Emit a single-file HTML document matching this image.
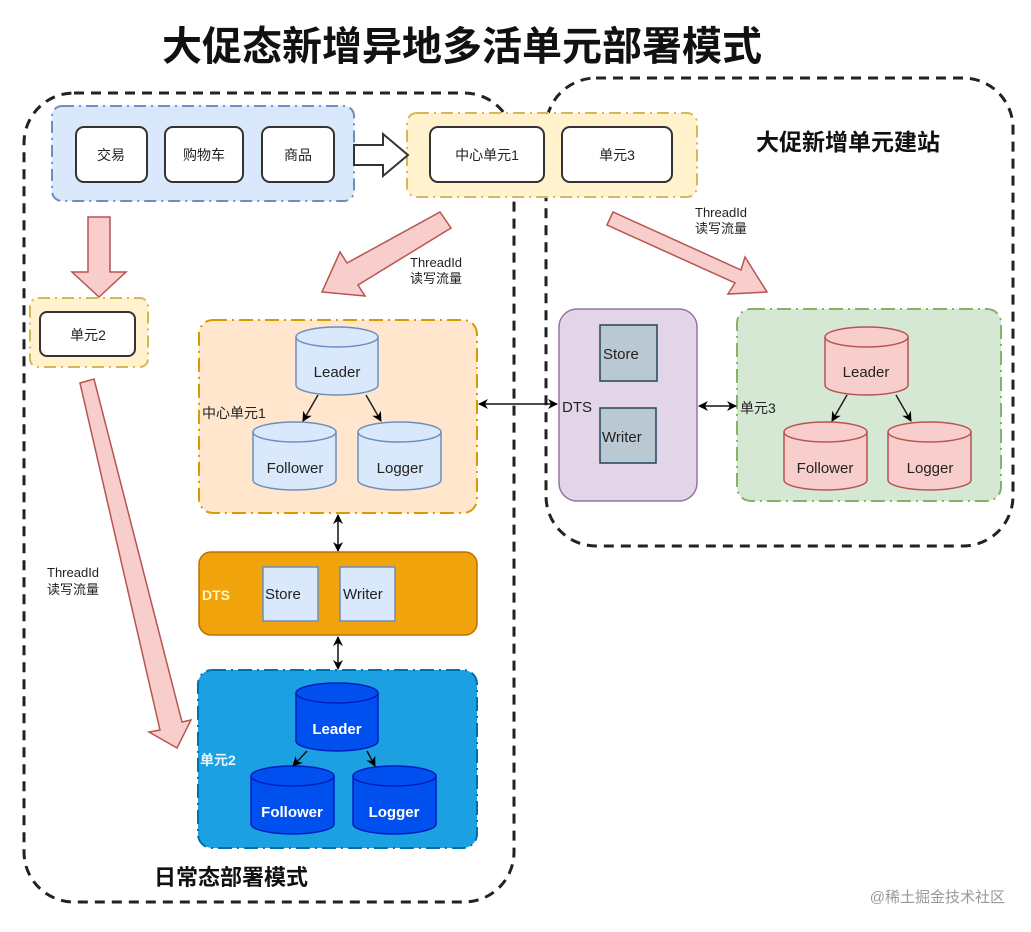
<!DOCTYPE html>
<html><head><meta charset="utf-8"><style>
html,body{margin:0;padding:0;background:#fff;}
svg{display:block;font-family:"Liberation Sans","Noto Sans CJK SC",sans-serif;}
</style></head><body>
<svg width="1031" height="932" viewBox="0 0 1031 932" xmlns="http://www.w3.org/2000/svg">
<defs>
<marker id="ah" markerWidth="10" markerHeight="10" refX="9" refY="5" orient="auto-start-reverse" markerUnits="userSpaceOnUse"><path d="M0,0 L10,5 L0,10 L3,5 z" fill="#000"/></marker>
</defs>
<text x="462" y="60" text-anchor="middle" font-size="40" font-weight="bold" fill="#111">大促态新增异地多活单元部署模式</text>

<rect x="24" y="93" width="490" height="809" rx="50" fill="none" stroke="#222" stroke-width="3" stroke-dasharray="10,7"/>
<rect x="546" y="78" width="467" height="468" rx="50" fill="none" stroke="#222" stroke-width="3" stroke-dasharray="10,7"/>
<text x="848" y="150" text-anchor="middle" font-size="23" font-weight="bold" fill="#111">大促新增单元建站</text>
<text x="231" y="885" text-anchor="middle" font-size="22" font-weight="bold" fill="#111">日常态部署模式</text>

<rect x="52" y="106" width="302" height="95" rx="10" fill="#dae8fc" stroke="#6c8ebf" stroke-width="2" stroke-dasharray="12,5,2,5"/>
<rect x="407" y="113" width="290" height="84" rx="10" fill="#fff2cc" stroke="#d6b656" stroke-width="2" stroke-dasharray="12,5,2,5"/>
<g fill="#fff" stroke="#333" stroke-width="2">
<rect x="76" y="127" width="71" height="55" rx="8"/><rect x="165" y="127" width="78" height="55" rx="8"/><rect x="262" y="127" width="72" height="55" rx="8"/>
<rect x="430" y="127" width="114" height="55" rx="8"/><rect x="562" y="127" width="110" height="55" rx="8"/>
</g>
<g font-size="14" fill="#222" text-anchor="middle">
<text x="111" y="160">交易</text><text x="204" y="160">购物车</text><text x="298" y="160">商品</text>
<text x="487" y="160">中心单元1</text><text x="617" y="160">单元3</text>
</g>
<path d="M354,145 L383,145 L383,134 L408,155 L383,176 L383,165 L354,165 z" fill="#fff" stroke="#333" stroke-width="2"/>

<rect x="30" y="298" width="118" height="69" rx="8" fill="#fff2cc" stroke="#d6b656" stroke-width="2" stroke-dasharray="12,5,2,5"/>
<rect x="40" y="312" width="95" height="44" rx="7" fill="#fff" stroke="#333" stroke-width="2"/>
<text x="88" y="340" text-anchor="middle" font-size="14" fill="#222">单元2</text>

<g fill="#f8cecc" stroke="#b85450" stroke-width="1.5">
<path d="M88,217 L110,217 L110,272 L126,272 L99,297 L72,272 L88,272 z"/>
<path d="M440,212 L451,228 L358,285 L365,296 L322,292 L340,252 L347,263 z"/>
<path d="M613,212 L607,225 L735,283 L728,294 L767,292 L745,257 L741,270 z"/>
<path d="M80,383 L94,379 L182,722 L191,720 L177,748 L149,732 L160,730 z"/>
</g>
<g font-size="13" fill="#222">
<text x="410" y="267">ThreadId</text><text x="410" y="283">读写流量</text>
<text x="695" y="217">ThreadId</text><text x="695" y="233">读写流量</text>
<text x="47" y="577">ThreadId</text><text x="47" y="594">读写流量</text>
</g>

<rect x="199" y="320" width="278" height="193" rx="14" fill="#ffe6cc" stroke="#d79b00" stroke-width="2" stroke-dasharray="14,5,2,5"/>
<text x="202" y="418" font-size="14" fill="#222">中心单元1</text>
<g stroke-width="1.5" fill="#dae8fc" stroke="#6c8ebf">
<path d="M296,337 a41,10 0 0 1 82,0 v48 a41,10 0 0 1 -82,0 z"/><path d="M296,337 a41,10 0 0 0 82,0" fill="none"/>
<path d="M253,432 a41.5,10 0 0 1 83,0 v48 a41.5,10 0 0 1 -83,0 z"/><path d="M253,432 a41.5,10 0 0 0 83,0" fill="none"/>
<path d="M358,432 a41.5,10 0 0 1 83,0 v48 a41.5,10 0 0 1 -83,0 z"/><path d="M358,432 a41.5,10 0 0 0 83,0" fill="none"/>
</g>
<g font-size="15" fill="#222" text-anchor="middle">
<text x="337" y="377">Leader</text><text x="295" y="473">Follower</text><text x="400" y="473">Logger</text>
</g>
<g stroke="#222" stroke-width="1.5" fill="none" marker-end="url(#ah)">
<line x1="318" y1="395" x2="303" y2="421"/><line x1="366" y1="395" x2="381" y2="421"/>
</g>

<rect x="559" y="309" width="138" height="192" rx="18" fill="#e1d5e7" stroke="#9673a6" stroke-width="1.5"/>
<rect x="600" y="325" width="57" height="56" fill="#bac8d3" stroke="#23445d" stroke-width="1.5"/>
<rect x="600" y="408" width="56" height="55" fill="#bac8d3" stroke="#23445d" stroke-width="1.5"/>
<g font-size="15" fill="#222"><text x="603" y="359">Store</text><text x="602" y="442">Writer</text><text x="562" y="412">DTS</text></g>

<rect x="737" y="309" width="264" height="192" rx="14" fill="#d5e8d4" stroke="#82b366" stroke-width="2" stroke-dasharray="14,5,2,5"/>
<text x="740" y="413" font-size="14" fill="#222">单元3</text>
<g stroke-width="1.5" fill="#f8cecc" stroke="#b85450">
<path d="M825,337 a41.5,10 0 0 1 83,0 v48 a41.5,10 0 0 1 -83,0 z"/><path d="M825,337 a41.5,10 0 0 0 83,0" fill="none"/>
<path d="M784,432 a41.5,10 0 0 1 83,0 v48 a41.5,10 0 0 1 -83,0 z"/><path d="M784,432 a41.5,10 0 0 0 83,0" fill="none"/>
<path d="M888,432 a41.5,10 0 0 1 83,0 v48 a41.5,10 0 0 1 -83,0 z"/><path d="M888,432 a41.5,10 0 0 0 83,0" fill="none"/>
</g>
<g font-size="15" fill="#222" text-anchor="middle">
<text x="866" y="377">Leader</text><text x="825" y="473">Follower</text><text x="930" y="473">Logger</text>
</g>
<g stroke="#222" stroke-width="1.5" fill="none" marker-end="url(#ah)">
<line x1="847" y1="395" x2="832" y2="421"/><line x1="896" y1="395" x2="911" y2="421"/>
</g>

<g stroke="#111" stroke-width="1.5" fill="none" marker-start="url(#ah)" marker-end="url(#ah)">
<line x1="479" y1="404" x2="557" y2="404"/>
<line x1="699" y1="406" x2="736" y2="406"/>
<line x1="338" y1="515" x2="338" y2="551"/>
<line x1="338" y1="637" x2="338" y2="669"/>
</g>

<rect x="199" y="552" width="278" height="83" rx="12" fill="#f0a30a" stroke="#BD7000" stroke-width="1.5"/>
<rect x="263" y="567" width="55" height="54" fill="#dae8fc" stroke="#6c8ebf" stroke-width="1.5"/>
<rect x="340" y="567" width="55" height="54" fill="#dae8fc" stroke="#6c8ebf" stroke-width="1.5"/>
<text x="202" y="600" font-size="14" font-weight="bold" fill="#fff8c0">DTS</text>
<g font-size="15" fill="#222"><text x="265" y="599">Store</text><text x="343" y="599">Writer</text></g>

<rect x="198" y="670" width="279" height="178" rx="14" fill="#1ba1e2" stroke="#006EAF" stroke-width="2" stroke-dasharray="14,5,2,5"/>
<text x="200" y="765" font-size="14" font-weight="bold" fill="#e8f4ff">单元2</text>
<g stroke-width="1.5" fill="#0050ef" stroke="#001DBC">
<path d="M296,693 a41,10 0 0 1 82,0 v48 a41,10 0 0 1 -82,0 z"/><path d="M296,693 a41,10 0 0 0 82,0" fill="none"/>
<path d="M251,776 a41.5,10 0 0 1 83,0 v48 a41.5,10 0 0 1 -83,0 z"/><path d="M251,776 a41.5,10 0 0 0 83,0" fill="none"/>
<path d="M353,776 a41.5,10 0 0 1 83,0 v48 a41.5,10 0 0 1 -83,0 z"/><path d="M353,776 a41.5,10 0 0 0 83,0" fill="none"/>
</g>
<g font-size="15" font-weight="bold" fill="#fff" text-anchor="middle">
<text x="337" y="734">Leader</text><text x="292" y="817">Follower</text><text x="394" y="817">Logger</text>
</g>
<g stroke="#111" stroke-width="1.5" fill="none" marker-end="url(#ah)">
<line x1="307" y1="751" x2="293" y2="766"/><line x1="367" y1="751" x2="375" y2="766"/>
</g>

<text x="1005" y="902" text-anchor="end" font-size="15" fill="#999">@稀土掘金技术社区</text>
</svg>
</body></html>
